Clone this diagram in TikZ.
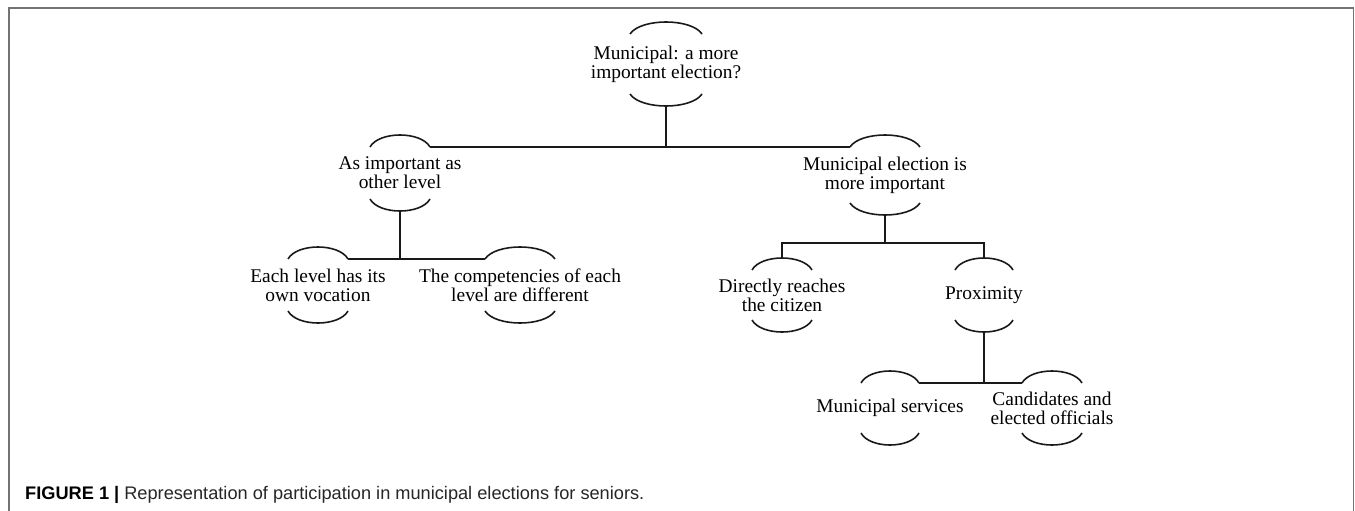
\documentclass[tikz,border=0pt]{standalone}
\usepackage{fontspec}
\setmainfont{Liberation Serif}
\setsansfont{Liberation Sans}
\usepackage{tikz}
\usetikzlibrary{positioning}
\tikzstyle{idea} = [align=center, inner sep=0pt,
font=\fontsize{19.4}{19}\selectfont]
\tikzstyle{bow} = [line width=1.6pt, black!90]
\tikzstyle{link} = [line width=2pt, black!90]
\tikzstyle{frame} = [line width=1.5pt, black!55]
\tikzstyle{caption} = [anchor=base west, inner sep=0pt,
font=\sffamily\fontsize{18.2}{20}\selectfont, text=black!85]
% arcs above and below an idea: name, half width, gap
\newcommand{\ideaarcs}[3]{
    \draw[bow] ([shift={(-#2,-#3)}]#1.center) coordinate (#1-tl)
        .. controls +(0.3*#2,-16) and +(-0.3*#2,-16) ..
        ([shift={(#2,-#3)}]#1.center) coordinate (#1-tr);
    \draw[bow] ([shift={(-#2,#3)}]#1.center) coordinate (#1-bl)
        .. controls +(0.3*#2,16) and +(-0.3*#2,16) ..
        ([shift={(#2,#3)}]#1.center) coordinate (#1-br);
    \coordinate (#1-t) at ([shift={(0,-#3-12)}]#1.center);
    \coordinate (#1-b) at ([shift={(0,#3+12)}]#1.center);
}

\begin{document}
\begin{tikzpicture}[x=1pt, y=-1pt]
            \useasboundingbox (0,0) rectangle (1355,511);
            \draw[frame] (9,511) |- (1353.5,8) -- (1353.5,511);
            % Ideas
            \node[idea] (root) at (666,64) {Municipal: a more\\important election?};
            \node[idea] (equal) at (400,173) {As important as\\other level};
            \node[idea] (more) at (885,175) {Municipal election is\\more important};
            \node[idea] (vocation) at (318,285) {Each level has its\\own vocation};
            \node[idea] (competencies) at (520,285) {The competencies of each\\level are different};
            \node[idea] (citizen) at (782,295) {Directly reaches\\the citizen};
            \node[idea] (proximity) at (984,295) {Proximity};
            \node[idea] (services) at (890,408) {Municipal services};
            \node[idea] (officials) at (1052,408) {Candidates and\\elected officials};
            % Arcs
            \ideaarcs{root}{36}{30}
            \ideaarcs{equal}{30}{26}
            \ideaarcs{more}{35}{28}
            \ideaarcs{vocation}{30}{26}
            \ideaarcs{competencies}{35}{26}
            \ideaarcs{citizen}{30}{25}
            \ideaarcs{proximity}{29}{25}
            \ideaarcs{services}{29}{25}
            \ideaarcs{officials}{30}{25}
            % Links
            \draw[link] (root-b) -- (root-b |- equal-tr);
            \draw[link] (equal-tr) -- (more-tl);
            \draw[link] (equal-b) -- (equal-b |- vocation-tr);
            \draw[link] (vocation-tr) -- (competencies-tl);
            \draw[link] (more-b) -- ++(0,28) coordinate (split);
            \draw[link] (citizen-t) |- (split) -| (proximity-t);
            \draw[link] (proximity-b) -- (proximity-b |- services-tr);
            \draw[link] (services-tr) -- (officials-tl);
            % Caption
            \node[caption] (caption) at (25,499) {\textbf{\color{black}FIGURE 1 |} Representation of participation in municipal elections for seniors.};
        \end{tikzpicture}
\end{document}
